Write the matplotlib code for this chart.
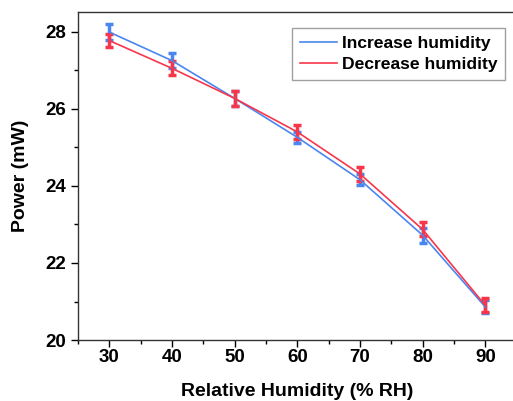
import numpy as np
import matplotlib.pyplot as plt
from matplotlib.ticker import MultipleLocator

plt.rcParams['font.family'] = ['Liberation Sans', 'DejaVu Sans']
plt.rcParams['font.weight'] = 'bold'

humidity = [30, 40, 50, 60, 70, 80, 90]
power_up = [27.99, 27.25, 26.27, 25.26, 24.16, 22.72, 20.86]
err_up = [0.2, 0.2, 0.2, 0.15, 0.15, 0.2, 0.17]
power_down = [27.77, 27.05, 26.27, 25.40, 24.31, 22.87, 20.90]
err_down = [0.17, 0.18, 0.2, 0.18, 0.18, 0.18, 0.18]

blue = '#4a86f0'
red = '#f7364a'

fig = plt.figure(figsize=(5.13, 4.01), dpi=100)
ax = fig.add_axes([0.152, 0.152, 0.855, 0.817])

ax.errorbar(humidity, power_up, yerr=err_up, color=blue, lw=1.2,
            elinewidth=2.5, capsize=3, capthick=2.5, label='Increase humidity')
ax.errorbar(humidity, power_down, yerr=err_down, color=red, lw=1.2,
            elinewidth=2.5, capsize=3, capthick=2.5, label='Decrease humidity')

ax.set_xlim(25, 95)
ax.set_ylim(20, 28.5)
ax.xaxis.set_major_locator(MultipleLocator(10))
ax.xaxis.set_minor_locator(MultipleLocator(5))
ax.yaxis.set_major_locator(MultipleLocator(2))
ax.yaxis.set_minor_locator(MultipleLocator(1))
ax.tick_params(which='major', length=5, width=1, labelsize=13.5, direction='out')
ax.tick_params(axis='x', which='major', pad=1.5)
ax.tick_params(which='minor', length=3, width=1, direction='out')
for s in ax.spines.values():
    s.set_linewidth(1)
    s.set_color('#333333')

ax.set_xlabel('Relative Humidity (% RH)', fontsize=14, fontweight='bold', labelpad=12)
ax.set_ylabel('Power (mW)', fontsize=14, fontweight='bold', labelpad=12)

handles, labels = ax.get_legend_handles_labels()
handles = [h[0] for h in handles]
leg = ax.legend(handles, labels, loc='upper left', bbox_to_anchor=(0.488, 0.952),
                borderaxespad=0, fontsize=12.6, frameon=True, fancybox=False,
                edgecolor='#888888', handlelength=2.1, borderpad=0.45,
                labelspacing=0.32, handletextpad=0.3)
leg.get_frame().set_linewidth(1)

fig.savefig('out.png', dpi=100)
